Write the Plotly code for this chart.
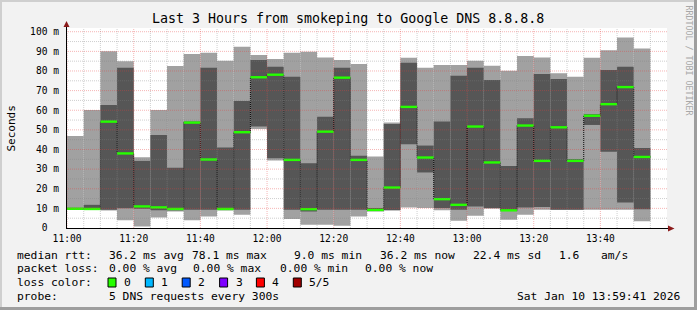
import plotly.graph_objects as go
import pandas as pd

# ---------------- data (ms) ----------------
# each value describes the 5-minute interval ending at the given time
ping_min = [9.5, 9.3, 9.2, 8.9, 3.9, 0.8, 5.4, 8.4, 3.9, 5.9, 8.9, 6.8, 50.5, 34.4, 4.6, 1.7, 1.7, 1.2,
            5.9, 8.4, 9.0, 10.5, 10.2, 9.0, 3.7, 6.3, 9.8, 4.2, 6.8, 9.3, 9.3, 9.3, 9.3, 9.3, 9.3, 3.4]
ping_lo = [9.5, 9.5, 9.3, 9.3, 10.0, 9.8, 9.0, 9.0, 9.3, 9.3, 9.3, 9.3, 51.7, 35.6, 9.3, 8.4, 9.3, 9.3,
           9.3, 8.8, 9.0, 42.7, 28.3, 10.2, 9.3, 11.0, 10.2, 9.0, 10.5, 10.7, 9.3, 9.3, 52.5, 38.9, 13.0, 9.6]
median = [10.0, 9.8, 9.7, 54.2, 38.0, 11.0, 10.5, 9.7, 53.7, 34.9, 9.7, 48.8, 76.8, 78.1, 34.7, 9.6, 49.1, 76.6,
          34.7, 9.2, 20.6, 61.7, 35.9, 14.7, 11.8, 51.7, 33.4, 9.0, 52.2, 34.2, 51.3, 34.2, 57.2, 63.1, 71.8, 36.2]
ping_hi = [34.6, 10.3, 11.8, 62.7, 81.6, 34.2, 47.4, 30.7, 54.2, 81.6, 41.0, 64.7, 85.6, 82.2, 77.1, 33.0, 56.7, 81.6,
           36.8, 10.2, 53.0, 84.2, 42.0, 54.2, 77.6, 81.6, 75.4, 31.6, 55.9, 78.4, 75.9, 35.1, 58.0, 80.5, 82.2, 40.7]
ping_max = [92.0, 46.9, 60.1, 90.1, 85.0, 36.1, 60.1, 82.5, 88.6, 89.3, 85.2, 92.3, 88.1, 86.1, 89.3, 89.8, 86.9, 85.6,
            83.5, 36.4, 53.7, 86.7, 81.6, 83.0, 83.0, 85.2, 82.7, 80.1, 87.6, 86.9, 78.8, 77.1, 86.7, 90.6, 97.1, 91.5]

y_ticks = [0, 10, 20, 30, 40, 50, 60, 70, 80, 90, 100]
y_ticktext = ["0\u00a0\u00a0" if v == 0 else f"{v} m" for v in y_ticks]

loss_labels = ["0", "1", "2", "3", "4", "5/5"]
loss_colors = ["#26ff00", "#00b8ff", "#0059ff", "#7e00ff", "#ff0000", "#a10000"]

title = "Last 3 Hours from smokeping to Google DNS 8.8.8.8"

# ---------------- geometry ----------------
W, H = 697, 310
L, R, T, B = 66, 30, 28, 82
PW, PH = W - L - R, H - T - B


def px(x):
    return (x - L) / PW


def py(y):
    return (H - B - y) / PH


end_times = pd.date_range("2026-01-10 11:00", "2026-01-10 13:55", freq="5min")
step = pd.Timedelta(minutes=5)
start_times = end_times - step
centers = end_times - step / 2
x_start = pd.Timestamp("2026-01-10 10:59:41")
x_end = x_start + pd.Timedelta(seconds=18 * PW)

LIGHT = "#a1a1a1"
DARK = "#565656"
MONO = "DejaVu Sans Mono"

fig = go.Figure()
fig.add_trace(go.Bar(x=centers, base=ping_min, y=[a - b for a, b in zip(ping_max, ping_min)],
                     width=300000, marker=dict(color=LIGHT, line=dict(width=0)), hoverinfo="skip"))
fig.add_trace(go.Bar(x=centers, base=ping_lo, y=[a - b for a, b in zip(ping_hi, ping_lo)],
                     width=300000, marker=dict(color=DARK, line=dict(width=0)), hoverinfo="skip"))
fig.add_trace(go.Scatter(x=list(start_times) + [end_times[-1]], y=median + [median[-1]], mode="lines",
                         line=dict(shape="hv", color="black", width=1, dash="1px,1px"), hoverinfo="skip"))
gx, gy = [], []
for s, e, m in zip(start_times, end_times, median):
    gx += [s, e, None]
    gy += [m, m, None]
fig.add_trace(go.Scatter(x=gx, y=gy, mode="lines", line=dict(color="#26ff00", width=2.4), hoverinfo="skip"))

shapes = []
# grid on top of the data (as rrdtool draws it)
MINOR = "rgba(128,128,128,0.38)"
MAJOR = "rgba(230,60,60,0.38)"
for t in pd.date_range("2026-01-10 11:00", "2026-01-10 13:55", freq="5min"):
    major = t.minute % 20 == 0
    shapes.append(dict(type="line", xref="x", yref="paper", x0=t, x1=t, y0=0, y1=1, layer="above",
                       line=dict(color=MAJOR if major else MINOR, width=1, dash="1px,1px")))
for v in range(5, 101, 5):
    major = v % 10 == 0
    shapes.append(dict(type="line", xref="paper", yref="y", x0=0, x1=1, y0=v, y1=v, layer="above",
                       line=dict(color=MAJOR if major else MINOR, width=1, dash="1px,1px")))

# arrows
ARROW = "#8b1a1a"
ax_x = 66.5
shapes.append(dict(type="line", xref="paper", yref="paper", x0=px(ax_x), x1=px(ax_x), y0=py(228.5), y1=py(25),
                   line=dict(color="black", width=1), layer="above"))
shapes.append(dict(type="path", xref="paper", yref="paper", layer="above",
                   path=f"M {px(ax_x-3)} {py(27)} L {px(ax_x+3)} {py(27)} L {px(ax_x)} {py(21)} Z",
                   fillcolor=ARROW, line=dict(color=ARROW, width=0)))
shapes.append(dict(type="line", xref="paper", yref="paper", x0=px(66), x1=px(669), y0=py(228.5), y1=py(228.5),
                   line=dict(color="black", width=1), layer="above"))
shapes.append(dict(type="path", xref="paper", yref="paper", layer="above",
                   path=f"M {px(668)} {py(225.5)} L {px(668)} {py(231.5)} L {px(674.5)} {py(228.5)} Z",
                   fillcolor=ARROW, line=dict(color=ARROW, width=0)))

# frame
shapes.append(dict(type="rect", xref="paper", yref="paper", x0=px(0), x1=px(W), y0=py(0), y1=py(2),
                   fillcolor="#cfcfcf", line=dict(width=0)))
shapes.append(dict(type="rect", xref="paper", yref="paper", x0=px(0), x1=px(2), y0=py(0), y1=py(H),
                   fillcolor="#cfcfcf", line=dict(width=0)))
shapes.append(dict(type="rect", xref="paper", yref="paper", x0=px(0), x1=px(W), y0=py(H - 3), y1=py(H),
                   fillcolor="#9e9e9e", line=dict(width=0)))
shapes.append(dict(type="rect", xref="paper", yref="paper", x0=px(W - 3), x1=px(W), y0=py(0), y1=py(H),
                   fillcolor="#9e9e9e", line=dict(width=0)))

annotations = []


def text(x, y, s, size=11.3, xanchor="left", color="black", angle=0):
    annotations.append(dict(x=px(x), y=py(y), xref="paper", yref="paper", text=s, showarrow=False,
                            xanchor=xanchor, yanchor="middle", textangle=angle, borderpad=0,
                            font=dict(family=MONO, size=size, color=color)))


text(348, 18.5, title, size=13.3, xanchor="center")
text(11, 128.5, "Seconds", size=11, xanchor="center", angle=-90)
text(688.5, 60, "RRDTOOL / TOBI OETIKER", size=8.3, xanchor="center", color="#a8a8a8", angle=90)

# legend rows
row1, row2, row3, row4 = 255, 268.5, 282.5, 296
text(16, row1, "median rtt:")
for xx, s in [(107.6, "36.2 ms avg"), (191.1, "78.1 ms max"), (293.3, "9.0 ms min"), (379.1, "36.2 ms now"),
              (472, "22.4 ms sd"), (558.2, "1.6"), (600, "am/s")]:
    text(xx, row1, s)
text(16, row2, "packet loss:")
for xx, s in [(107.6, "0.00 % avg"), (192.4, "0.00 % max"), (279.1, "0.00 % min"), (364.4, "0.00 % now")]:
    text(xx, row2, s)
text(16, row3, "loss color:")
box_x = [108, 145.3, 182.2, 219.6, 256.4, 293.3]
for bx, lab, col in zip(box_x, loss_labels, loss_colors):
    shapes.append(dict(type="rect", xref="paper", yref="paper", x0=px(bx), x1=px(bx + 8), y0=py(row3 + 4.5),
                       y1=py(row3 - 4.5), fillcolor=col, line=dict(color="black", width=1)))
    text(bx + 15, row3, lab)
text(16, row4, "probe:")
text(107.6, row4, "5 DNS requests every 300s")
text(681, row4, "Sat Jan 10 13:59:41 2026", xanchor="right")

fig.update_layout(
    width=W, height=H, margin=dict(l=L, r=R, t=T, b=B, autoexpand=False),
    paper_bgcolor="#f2f2f2", plot_bgcolor="white", barmode="overlay", showlegend=False,
    shapes=shapes, annotations=annotations,
)
fig.update_xaxes(type="date", range=[x_start, x_end], tickmode="array",
                 tickvals=[t for t in end_times if t.minute % 20 == 0],
                 ticktext=[t.strftime("%H:%M") for t in end_times if t.minute % 20 == 0],
                 showgrid=False, zeroline=False, showline=False, ticks="", ticklabelstandoff=3,
                 tickfont=dict(family=MONO, size=9.6, color="black"), fixedrange=True)
fig.update_yaxes(range=[0, 101.9], tickmode="array", tickvals=y_ticks, ticktext=y_ticktext,
                 showgrid=False, zeroline=False, showline=False, ticks="", ticklabelstandoff=6,
                 tickfont=dict(family=MONO, size=9.6, color="black"), fixedrange=True)

fig.write_html("out.html")
